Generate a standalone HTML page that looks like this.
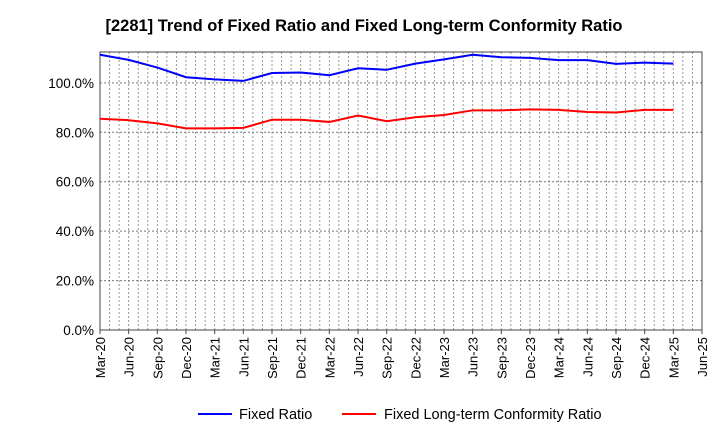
<!DOCTYPE html>
<html><head><meta charset="utf-8"><style>
body{margin:0;background:#fff;font-family:"Liberation Sans",sans-serif}
</style></head><body>
<svg id="c" width="720" height="440" xmlns="http://www.w3.org/2000/svg" font-family="Liberation Sans, sans-serif">
<text x="364" y="31" font-size="16.5" font-weight="bold" text-anchor="middle">[2281]  Trend of Fixed Ratio and Fixed Long-term Conformity Ratio</text>
<g id="grid"></g><g id="axes"></g><g id="series"></g>
<g>
<line x1="198" y1="414" x2="232" y2="414" stroke="#0000ff" stroke-width="2"/>
<text x="239" y="419" font-size="14.5">Fixed Ratio</text>
<line x1="342" y1="414" x2="376" y2="414" stroke="#ff0000" stroke-width="2"/>
<text x="384" y="419" font-size="14.5">Fixed Long-term Conformity Ratio</text>
</g>
</svg>
<script>
const xTicks=["Mar-20","Jun-20","Sep-20","Dec-20","Mar-21","Jun-21","Sep-21","Dec-21","Mar-22","Jun-22","Sep-22","Dec-22","Mar-23","Jun-23","Sep-23","Dec-23","Mar-24","Jun-24","Sep-24","Dec-24","Mar-25","Jun-25"];
const yTicks=[0,20,40,60,80,100];
const fixedRatio=[111.4,109.3,106.2,102.3,101.4,100.8,104,104.2,103.1,105.9,105.3,107.8,109.5,111.4,110.4,110.1,109.2,109.2,107.7,108.2,107.8];
const conformityRatio=[85.5,84.9,83.6,81.6,81.6,81.8,85.1,85.1,84.2,86.8,84.5,86.1,87.0,88.9,88.9,89.3,89.1,88.2,88.0,89.1,89.1];
const L=100,R=702,T=52,B=330,yMax=112.5;
const NS="http://www.w3.org/2000/svg";
const step=(R-L)/(xTicks.length-1);
const x=i=>L+i*step, y=v=>B-(v/yMax)*(B-T);
function mk(t,a,p){const e=document.createElementNS(NS,t);for(const k in a)e.setAttribute(k,a[k]);p.appendChild(e);return e;}
const g=document.getElementById('grid'),ax=document.getElementById('axes'),s=document.getElementById('series');
for(let m=1;m<(xTicks.length-1)*3;m++){const xx=L+m*step/3;
const l=mk('line',{x1:xx,x2:xx,y1:T,y2:B,stroke:'#999','stroke-dasharray':'2,2','stroke-width':1},g);

}
yTicks.forEach(v=>{const yy=y(v);
if(v>0){const l=mk('line',{x1:L,x2:R,y1:yy,y2:yy,stroke:'#777','stroke-dasharray':'2,2'},g);

}
const t=mk('text',{x:L-6,y:yy+5,'font-size':13.5,'text-anchor':'end'},ax);t.textContent=v.toFixed(1)+'%';

});
const fr=mk('rect',{x:L,y:T,width:R-L,height:B-T,fill:'none',stroke:'#444'},ax);


xTicks.forEach((lab,i)=>{const xx=x(i);mk('line',{x1:xx,x2:xx,y1:B,y2:B+4,stroke:'#444'},ax);
const t=mk('text',{transform:`translate(${xx+5},${B+7}) rotate(-90)`,'font-size':13,'text-anchor':'end'},ax);t.textContent=lab;

});
[[fixedRatio,'#0000ff','fixed-ratio-line'],[conformityRatio,'#ff0000','conformity-ratio-line']].forEach(([d,c,n])=>{
const p=mk('polyline',{points:d.map((v,i)=>x(i)+','+y(v)).join(' '),fill:'none',stroke:c,'stroke-width':2},s);

});
</script>
</body></html>
